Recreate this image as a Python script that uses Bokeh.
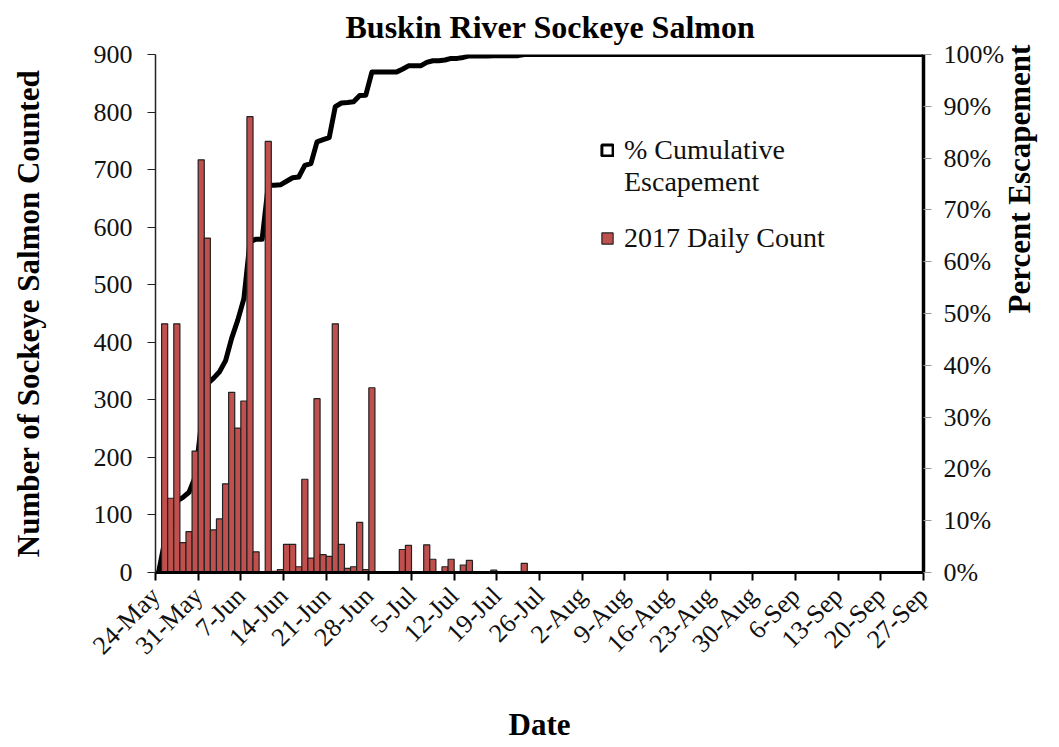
import math
import numpy as np
from bokeh.plotting import figure
from bokeh.models import (Range1d, LinearAxis, FixedTicker, NumeralTickFormatter,
                          Legend, LegendItem)
from bokeh.embed import file_html
from bokeh.resources import INLINE

# ---------------- data ----------------
title_text = "Buskin River Sockeye Salmon"
season_days = 127  # 24-May .. 27-Sep
tick_labels = ["24-May", "31-May", "7-Jun", "14-Jun", "21-Jun", "28-Jun", "5-Jul",
               "12-Jul", "19-Jul", "26-Jul", "2-Aug", "9-Aug", "16-Aug", "23-Aug",
               "30-Aug", "6-Sep", "13-Sep", "20-Sep", "27-Sep"]
# 2017 daily counts starting 24-May (one value per day, through 23-Jul)
daily_counts = [0, 432, 129, 432, 52, 71, 211, 717, 581, 74, 93, 154, 313, 251, 298,
                792, 36, 0, 749, 2, 5, 49, 49, 10, 162, 25, 302, 31, 28, 432, 49, 7,
                10, 87, 5, 321, 0, 0, 0, 0, 40, 47, 0, 0, 48, 23, 0, 10, 23, 0, 13,
                21, 0, 0, 0, 4, 0, 0, 0, 0, 16]
count_ticks = list(range(0, 901, 100))
pct_ticks = [i / 10 for i in range(11)]

# ---------------- derived ----------------
counts = np.zeros(season_days)
counts[:len(daily_counts)] = daily_counts
day_center = np.arange(season_days) + 0.5
cum_pct = np.cumsum(counts) / counts.sum()

FONT = "Liberation Serif"

p = figure(width=1057, height=745, output_backend="svg", toolbar_location=None,
           x_range=Range1d(0, season_days - 1), y_range=Range1d(0, 900),
           min_border_left=155, min_border_right=133, min_border_top=54,
           min_border_bottom=173)
p.extra_y_ranges = {"pct": Range1d(0, 1)}
p.outline_line_color = None
p.xgrid.visible = False
p.ygrid.visible = False

p.title.text = title_text
p.title.text_font = FONT
p.title.text_font_size = "32px"
p.title.text_font_style = "bold"
p.title.align = "left"
p.title.offset = 190
p.title.vertical_align = "top"
p.title.standoff = 15
p.title.text_color = "black"

# cumulative line (behind bars)
p.line(day_center, cum_pct, y_range_name="pct", line_color="black", line_width=5,
       line_join="round")

bars = p.vbar(x=day_center, top=counts, width=1.0, fill_color="#C0504D",
              line_color="#222222", line_width=1.2)

dummy = p.rect(x=[np.nan], y=[np.nan], width=1, height=1, fill_color="white",
               line_color="black", line_width=3)
blank = p.rect(x=[np.nan], y=[np.nan], width=1, height=1, fill_alpha=0,
               line_alpha=0)

# x axis
xa = p.xaxis[0]
xa.ticker = FixedTicker(ticks=[7 * i for i in range(len(tick_labels))])
xa.major_label_overrides = {7 * i: lbl for i, lbl in enumerate(tick_labels)}
xa.major_label_orientation = math.pi / 4
xa.major_label_text_font = FONT
xa.major_label_text_font_size = "26px"
xa.major_label_text_color = "#111111"
xa.major_label_standoff = 11
xa.axis_line_width = 3
xa.axis_line_color = "black"
xa.major_tick_line_width = 2
xa.major_tick_out = 8
xa.major_tick_in = 0
xa.minor_tick_line_color = None
xa.axis_label = "Date"
xa.axis_label_text_font = FONT
xa.axis_label_text_font_size = "31px"
xa.axis_label_text_font_style = "bold"
xa.axis_label_text_color = "black"
xa.axis_label_standoff = 34

# left axis
ya = p.yaxis[0]
ya.ticker = FixedTicker(ticks=count_ticks)
ya.major_label_text_font = FONT
ya.major_label_text_font_size = "26px"
ya.major_label_text_color = "#111111"
ya.major_label_standoff = 15
ya.axis_line_color = "#222222"
ya.axis_line_width = 1.5
ya.major_tick_out = 8
ya.major_tick_in = 0
ya.major_tick_line_color = "#222222"
ya.minor_tick_line_color = None
ya.axis_label = "Number of Sockeye Salmon Counted"
ya.axis_label_text_font = FONT
ya.axis_label_text_font_size = "31px"
ya.axis_label_text_font_style = "bold"
ya.axis_label_text_color = "black"
ya.axis_label_standoff = 45

# right axis
ra = LinearAxis(y_range_name="pct", ticker=FixedTicker(ticks=pct_ticks),
                formatter=NumeralTickFormatter(format="0%"))
ra.major_label_text_font = FONT
ra.major_label_text_font_size = "26px"
ra.major_label_text_color = "#111111"
ra.major_label_standoff = 12
ra.axis_line_color = "black"
ra.axis_line_width = 3.5
ra.major_tick_out = 8
ra.major_tick_in = 0
ra.major_tick_line_color = "#999999"
ra.minor_tick_line_color = None
ra.axis_label = "Percent Escapement"
ra.axis_label_orientation = math.pi / 2
ra.axis_label_text_font = FONT
ra.axis_label_text_font_size = "31px"
ra.axis_label_text_font_style = "bold"
ra.axis_label_text_color = "black"
ra.axis_label_standoff = 12
p.add_layout(ra, "right")

legend_style = dict(orientation="vertical", border_line_color=None,
                    background_fill_alpha=0, padding=0, margin=0, spacing=0,
                    glyph_width=14, glyph_height=14, label_standoff=10,
                    label_text_font=FONT, label_text_font_size="28px",
                    label_text_color="#111111")
legend_cum = Legend(items=[LegendItem(label="% Cumulative", renderers=[dummy]),
                           LegendItem(label="Escapement", renderers=[blank])],
                    location=(445, 374), **legend_style)
legend_bar = Legend(items=[LegendItem(label="2017 Daily Count", renderers=[bars])],
                    location=(445, 318), **legend_style)
p.add_layout(legend_cum)
p.add_layout(legend_bar)

open("out.html", "w").write(file_html(p, INLINE))
